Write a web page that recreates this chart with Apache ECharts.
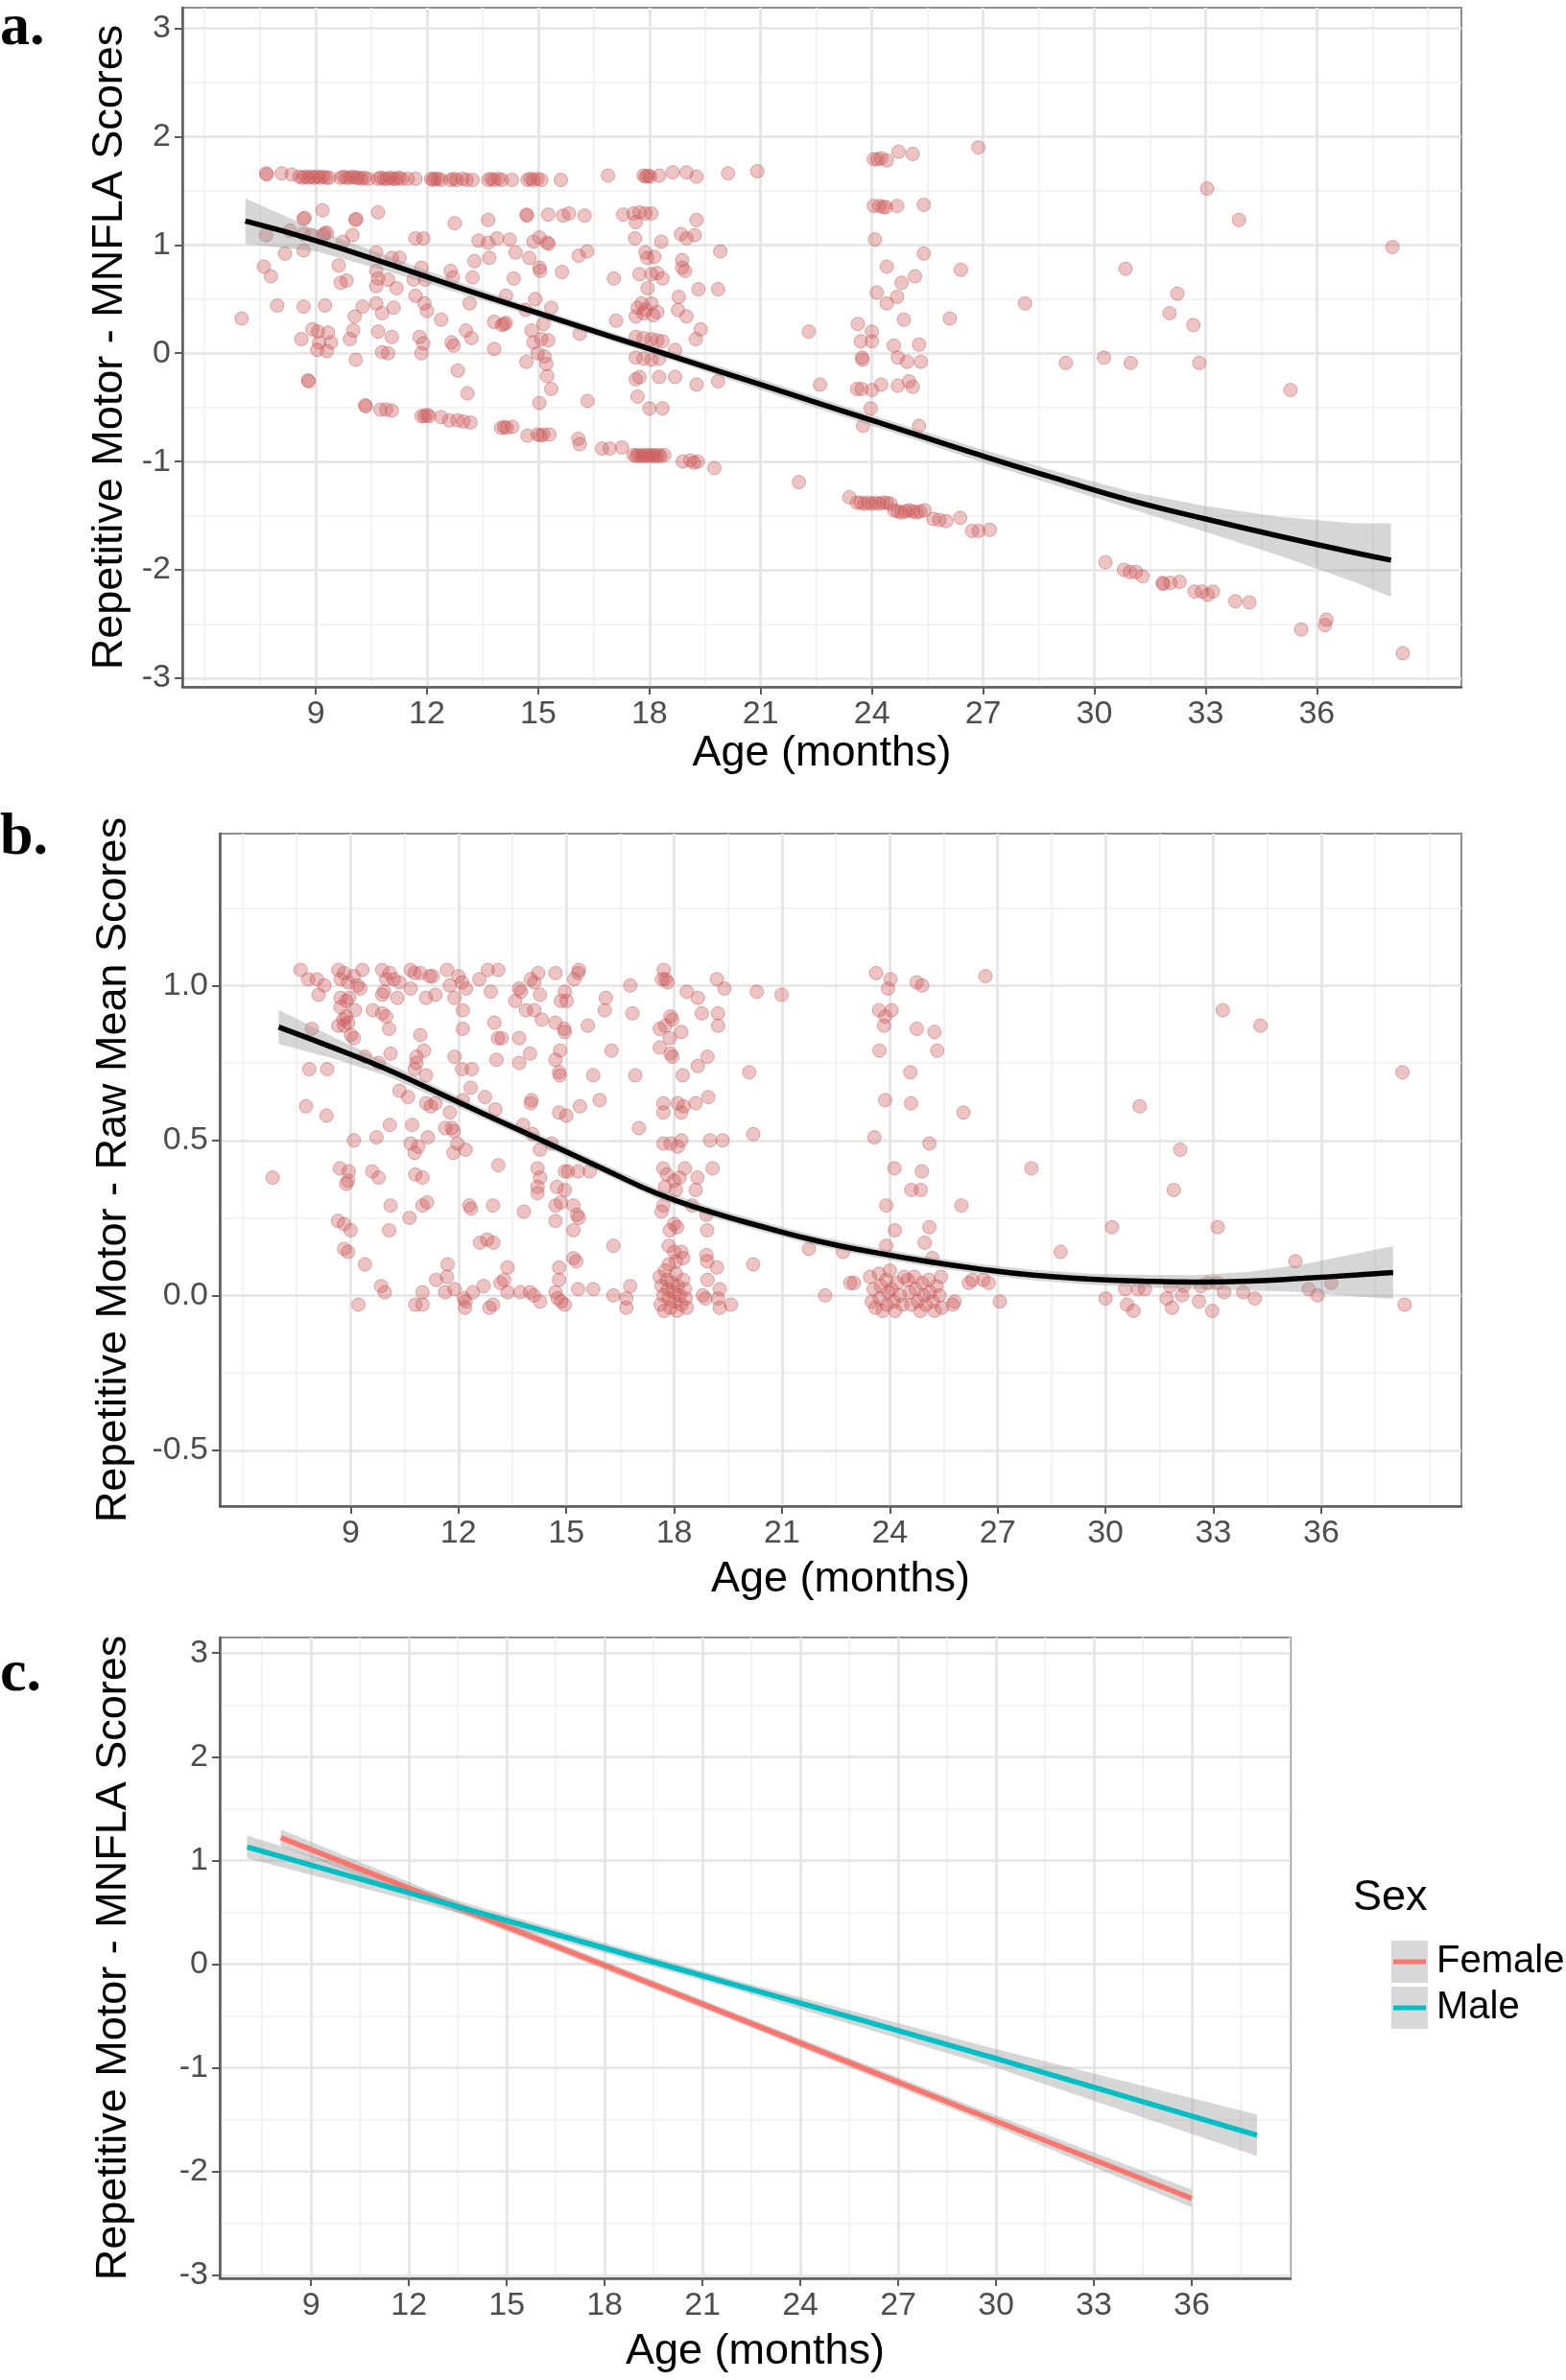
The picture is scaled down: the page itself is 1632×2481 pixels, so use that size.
<!DOCTYPE html>
<html><head><meta charset="utf-8">
<script src="https://cdn.jsdelivr.net/npm/echarts/dist/echarts.min.js"></script>
<style>html,body{margin:0;padding:0;background:#fff}#c{width:1632px;height:2481px}</style>
</head><body><div id="c"></div>
<script>
// ---------- tick values ----------
const xTicks = [9,12,15,18,21,24,27,30,33,36];
const xMinor = [6,7.5,10.5,13.5,16.5,19.5,22.5,25.5,28.5,31.5,34.5,37.5,39];
const yTicksA = [-3,-2,-1,0,1,2,3];
const yMinorA = [-2.5,-1.5,-0.5,0.5,1.5,2.5];
const yTicksB = [-0.5,0,0.5,1.0];
const yMinorB = [-0.25,0.25,0.75,1.25];
const yTicksC = [-3,-2,-1,0,1,2,3];
const yMinorC = [-2.5,-1.5,-0.5,0.5,1.5,2.5];

// ---------- panel a: MNFLA scores [age, score] ----------
const scatterA = [
[7.66,1.66],[7.68,1.65],[8.08,1.66],[8.35,1.65],
[8.56,1.63],[8.64,1.62],[8.72,1.63],[8.8,1.62],[8.88,1.63],[8.96,1.62],[9.04,1.63],[9.12,1.62],[9.2,1.63],[9.28,1.62],[9.36,1.62],
[9.67,1.62],[9.75,1.63],[9.83,1.62],[9.92,1.62],[10.0,1.63],[10.08,1.62],[10.15,1.62],[10.23,1.61],[10.31,1.62],[10.42,1.61],
[10.68,1.61],[10.76,1.62],[10.84,1.61],[10.92,1.61],[11.0,1.62],[11.08,1.61],[11.16,1.61],[11.24,1.62],[11.32,1.61],[11.48,1.61],
[11.69,1.61],[12.11,1.61],[12.16,1.6],[12.22,1.61],[12.3,1.61],[12.38,1.6],
[12.64,1.6],[12.72,1.61],[12.8,1.6],[12.96,1.61],[13.07,1.6],[13.23,1.6],
[13.65,1.6],[13.73,1.61],[13.81,1.6],[13.92,1.61],[14.02,1.6],[14.29,1.6],
[14.71,1.6],[14.79,1.61],[14.87,1.6],[14.98,1.61],[15.08,1.6],[15.61,1.6],
[16.88,1.64],[17.84,1.64],[17.9,1.63],[17.96,1.64],[18.02,1.63],[18.26,1.64],[18.63,1.67],[19.0,1.67],[19.27,1.63],[20.12,1.66],[20.91,1.68],
[8.67,1.24],[8.7,1.25],[9.18,1.32],[10.07,1.23],[10.09,1.24],[10.68,1.3],[12.75,1.2],[13.65,1.23],[14.68,1.28],[14.7,1.27],[15.27,1.28],[15.67,1.27],[15.83,1.29],[16.25,1.27],[17.29,1.28],[17.57,1.29],[17.73,1.3],[17.89,1.29],[18.05,1.29],[17.63,1.21],[19.27,1.23],
[7.66,1.09],[8.3,1.13],[8.67,1.1],[8.88,1.09],[9.2,1.09],[9.24,1.11],[9.3,1.11],[9.73,1.03],[9.99,1.09],[11.69,1.06],[11.9,1.06],[13.39,1.04],[13.65,1.02],[13.89,1.06],[14.23,1.05],[14.87,1.03],[15.03,1.07],[15.24,1.02],[15.28,1.01],[17.61,1.06],[18.32,1.03],[18.85,1.1],[19.0,1.06],[19.22,1.09],
[8.17,0.92],[8.67,0.95],[7.6,0.8],[7.79,0.71],[9.62,0.81],[10.63,0.93],[11.05,0.88],[11.26,0.88],[10.63,0.76],[9.67,0.65],[9.83,0.67],[10.68,0.69],[10.95,0.68],[11.18,0.6],[10.63,0.62],[11.85,0.79],[11.64,0.68],[11.95,0.68],[12.64,0.76],[12.7,0.7],[13.23,0.7],[13.28,0.85],[13.68,0.88],[14.39,0.93],[14.76,0.88],[15.03,0.79],[15.05,0.76],[14.34,0.69],[15.64,0.75],[16.09,0.9],[16.32,0.94],[17.04,0.69],[17.89,0.93],[17.94,0.88],[18.13,0.89],[17.73,0.73],[18.05,0.73],[18.21,0.74],[18.35,0.69],[18.88,0.86],[18.88,0.79],[18.96,0.76],[19.91,0.94],[19.32,0.59],[19.85,0.59],
[7.0,0.32],[7.96,0.44],[8.67,0.43],[9.25,0.44],[10.26,0.43],[10.05,0.34],[10.63,0.46],[10.79,0.37],[11.1,0.42],[11.69,0.53],[11.93,0.46],[12.0,0.39],[12.38,0.31],[13.15,0.46],[14.13,0.53],[14.92,0.5],[14.66,0.4],[15.35,0.42],[13.81,0.29],[14.02,0.26],[14.13,0.28],[14.08,0.27],[15.14,0.27],[17.1,0.3],[17.63,0.34],[17.79,0.46],[17.95,0.6],[18.05,0.46],[18.21,0.38],[17.84,0.37],[17.68,0.42],[17.9,0.4],[18.1,0.35],[18.79,0.52],[18.77,0.4],[19.0,0.34],
[8.61,0.13],[8.91,0.22],[9.06,0.2],[9.33,0.19],[9.09,0.1],[9.41,0.1],[9.04,0.03],[9.3,0.02],[9.92,0.13],[10.01,0.21],[10.08,-0.06],[10.68,0.2],[11.05,0.15],[10.79,0.01],[10.95,0.0],[11.8,0.15],[11.9,0.09],[11.85,0.0],[12.66,0.1],[12.72,0.07],[13.05,0.21],[13.2,0.14],[13.81,0.04],[14.82,0.21],[14.87,0.1],[15.08,0.13],[15.27,0.12],[14.98,0.0],[15.17,-0.03],[16.12,0.18],[17.63,0.15],[17.84,0.14],[18.05,0.13],[18.21,0.12],[18.35,0.11],[17.63,-0.04],[17.84,-0.05],[18.05,-0.06],[18.26,-0.05],[19.25,0.13],[19.38,0.22],[18.69,0.03],
[8.79,-0.25],[8.81,-0.26],[12.83,-0.16],[13.09,-0.37],[14.68,-0.08],[15.22,-0.1],[15.24,-0.21],[15.35,-0.33],[15.03,-0.46],[16.33,-0.44],[17.63,-0.24],[17.73,-0.22],[18.26,-0.22],[18.69,-0.22],[17.68,-0.4],[18.0,-0.51],[18.35,-0.51],[19.27,-0.29],[19.85,-0.26],[22.3,0.2],[22.6,-0.29],
[10.33,-0.48],[10.35,-0.49],[10.74,-0.52],[10.9,-0.52],[11.05,-0.53],[11.85,-0.58],[11.93,-0.58],[12.0,-0.57],[12.06,-0.58],[12.38,-0.59],[12.6,-0.62],[12.82,-0.62],[12.98,-0.63],[13.17,-0.64],[14.0,-0.69],[14.08,-0.68],[14.15,-0.69],[14.3,-0.68],[14.71,-0.76],[14.98,-0.75],[15.06,-0.76],[15.14,-0.75],[15.3,-0.75],[16.08,-0.79],[16.12,-0.84],[16.72,-0.88],[16.93,-0.88],[17.26,-0.87],
[17.57,-0.94],[17.64,-0.95],[17.7,-0.94],[17.77,-0.95],[17.84,-0.94],[17.9,-0.95],[17.97,-0.94],[18.04,-0.95],[18.1,-0.94],[18.17,-0.95],[18.24,-0.94],[18.3,-0.95],[18.4,-0.94],
[18.9,-1.0],[19.1,-0.99],[19.3,-1.0],[19.2,-1.01],[19.75,-1.06],[22.03,-1.19],
[24.05,1.79],[24.15,1.79],[24.25,1.8],[24.4,1.78],[24.72,1.86],[25.1,1.84],[26.87,1.9],
[24.05,1.36],[24.2,1.36],[24.3,1.35],[24.38,1.35],[24.68,1.36],[25.4,1.37],
[24.08,1.05],[25.4,0.92],[24.4,0.8],[26.4,0.77],[24.13,0.56],[24.68,0.52],[24.4,0.46],[24.8,0.65],[25.16,0.71],[24.86,0.31],[26.1,0.32],[28.13,0.46],
[23.62,0.27],[24.0,0.2],[23.7,0.11],[24.0,0.11],[24.59,0.07],[25.27,0.08],[23.73,-0.04],[23.75,-0.06],[24.7,-0.04],[24.95,-0.08],[25.32,-0.08],
[23.6,-0.33],[23.72,-0.33],[24.0,-0.34],[24.25,-0.29],[24.7,-0.3],[25.0,-0.26],[25.1,-0.31],[23.97,-0.51],[23.76,-0.67],[25.27,-0.67],
[30.84,0.78],[32.24,0.55],[32.03,0.37],[32.67,0.26],[33.04,1.52],[33.9,1.23],[38.04,0.98],[29.23,-0.09],[30.26,-0.04],[30.98,-0.09],[32.83,-0.09],[35.29,-0.34],
[23.39,-1.33],[23.6,-1.38],[23.7,-1.38],[23.8,-1.39],[23.9,-1.38],[24.0,-1.39],[24.1,-1.38],[24.2,-1.39],[24.3,-1.38],[24.4,-1.38],[24.5,-1.39],
[24.6,-1.45],[24.7,-1.46],[24.8,-1.47],[24.9,-1.46],[25.0,-1.45],[25.1,-1.46],[25.2,-1.47],[25.3,-1.46],[25.42,-1.45],
[25.66,-1.53],[25.82,-1.54],[26.0,-1.55],[26.38,-1.52],[26.7,-1.64],[26.88,-1.64],[27.18,-1.63],
[30.3,-1.93],[30.8,-2.0],[30.96,-2.02],[31.12,-2.02],[31.3,-2.06],[31.84,-2.12],[31.86,-2.13],[32.05,-2.12],[32.3,-2.11],[32.7,-2.2],[32.9,-2.2],[33.06,-2.23],[33.2,-2.2],[33.8,-2.29],[34.18,-2.3],[35.58,-2.55],[36.22,-2.51],[36.26,-2.46],[38.32,-2.77]
];
const fitA_age   = [7.1, 9, 11, 13, 15, 17, 19, 21, 23, 25, 27, 29, 31, 33, 35, 37, 38];
const fitA_score = [1.22, 1.04, 0.82, 0.59, 0.37, 0.15, -0.07, -0.29, -0.51, -0.73, -0.95, -1.16, -1.36, -1.53, -1.69, -1.84, -1.91];
const fitA_se    = [0.21, 0.1, 0.07, 0.05, 0.04, 0.04, 0.04, 0.05, 0.05, 0.05, 0.06, 0.065, 0.08, 0.12, 0.18, 0.27, 0.34];

// ---------- panel b: raw mean scores [age, score] ----------
const scatterB = [
[7.61,1.05],[7.82,1.02],[8.06,1.02],[8.11,0.97],[8.27,1.0],[8.66,1.05],[8.72,1.02],[8.82,1.04],[8.93,1.01],[9.09,1.03],[9.19,1.0],[9.33,1.05],[9.27,0.99],[9.88,1.05],[9.99,1.02],[10.09,1.04],[10.2,1.02],[10.36,1.01],[10.67,1.05],[10.78,1.04],[10.94,1.04],[11.2,1.03],[11.28,1.03],[11.68,1.05],[11.76,1.0],[12.0,1.03],[12.1,1.01],[12.21,0.99],[12.58,1.02],[12.82,1.05],[13.11,1.05],[12.9,0.98],[13.69,0.99],[13.74,0.98],[14.01,1.02],[14.11,1.01],[14.22,1.04],[14.27,0.97],[14.7,1.04],[14.96,0.98],[15.22,1.02],[15.33,1.04],[15.35,1.05],[16.78,1.0],[17.71,1.05],[17.76,1.02],[17.66,1.02],[17.82,1.01],[18.35,0.98],[19.19,1.02],[19.4,0.99],[20.3,0.98],[20.99,0.97],
[8.72,0.96],[8.88,0.95],[8.96,0.96],[9.88,0.97],[9.93,0.98],[10.3,0.96],[10.67,0.99],[11.1,0.96],[11.36,0.97],[11.89,0.96],[13.58,0.95],[14.85,0.95],[15.01,0.95],[16.1,0.96],[18.66,0.96],
[8.72,0.93],[9.12,0.92],[9.62,0.92],[9.88,0.91],[9.99,0.9],[8.66,0.87],[8.8,0.89],[8.88,0.9],[8.93,0.88],[8.82,0.87],[9.01,0.84],[9.09,0.83],[7.92,0.86],[10.07,0.86],[10.94,0.84],[11.04,0.79],[12.12,0.92],[12.12,0.86],[13.0,0.88],[13.1,0.83],[13.2,0.83],[13.69,0.83],[13.88,0.92],[14.11,0.92],[14.32,0.89],[14.7,0.88],[14.94,0.86],[14.96,0.85],[15.6,0.87],[16.07,0.92],[16.84,0.91],[17.9,0.9],[17.95,0.89],[17.75,0.87],[17.6,0.86],[18.2,0.85],[17.88,0.83],[18.77,0.91],[19.22,0.91],[19.22,0.87],[16.26,0.79],[17.6,0.8],[17.9,0.78],[17.95,0.77],
[10.11,0.78],[9.78,0.75],[9.4,0.77],[7.85,0.73],[8.35,0.73],[10.83,0.77],[10.83,0.75],[10.78,0.73],[11.1,0.71],[11.89,0.77],[12.1,0.73],[12.37,0.73],[13.06,0.76],[13.69,0.75],[13.99,0.78],[14.7,0.76],[14.83,0.79],[14.8,0.72],[14.82,0.71],[15.75,0.71],[16.92,0.71],[18.24,0.71],[18.66,0.74],[18.93,0.77],[20.09,0.72],
[7.76,0.61],[8.33,0.58],[10.36,0.66],[10.6,0.64],[11.1,0.62],[11.23,0.61],[11.36,0.62],[11.76,0.59],[12.12,0.63],[12.34,0.67],[12.74,0.64],[13.03,0.6],[14.01,0.62],[14.03,0.63],[14.8,0.59],[15.0,0.58],[15.38,0.61],[15.93,0.63],[17.7,0.62],[17.7,0.59],[18.1,0.62],[18.26,0.61],[18.2,0.59],[18.6,0.62],[18.95,0.64],[17.02,0.54],[20.2,0.52],
[9.09,0.5],[9.72,0.51],[10.09,0.55],[10.71,0.55],[10.67,0.49],[10.78,0.46],[10.88,0.48],[11.15,0.51],[11.63,0.54],[11.87,0.53],[11.82,0.54],[11.97,0.49],[11.86,0.46],[12.2,0.47],[13.8,0.55],[14.06,0.52],[14.27,0.47],[14.59,0.49],[17.7,0.49],[17.9,0.49],[18.1,0.48],[18.2,0.5],[19.0,0.5],[19.35,0.5],
[6.83,0.38],[8.7,0.41],[8.95,0.4],[8.93,0.37],[8.88,0.36],[9.6,0.4],[9.78,0.38],[10.8,0.39],[11.0,0.38],[13.11,0.42],[14.2,0.41],[14.27,0.38],[14.2,0.35],[14.74,0.35],[14.96,0.4],[15.05,0.4],[15.33,0.4],[15.65,0.4],[14.2,0.33],[14.96,0.34],[17.7,0.41],[17.8,0.39],[18.0,0.37],[18.15,0.38],[18.3,0.41],[18.65,0.38],[19.07,0.41],[17.75,0.35],[18.05,0.34],[18.6,0.34],
[8.65,0.24],[8.82,0.23],[9.0,0.21],[10.11,0.29],[10.64,0.25],[10.07,0.21],[11.0,0.29],[11.13,0.3],[12.3,0.29],[12.35,0.28],[12.96,0.29],[13.82,0.27],[14.7,0.29],[14.85,0.3],[14.7,0.24],[15.2,0.29],[15.3,0.26],[15.35,0.25],[15.2,0.21],[17.7,0.29],[17.65,0.27],[18.0,0.23],[18.08,0.22],[17.88,0.21],[18.9,0.26],[18.92,0.21],[18.5,0.29],
[8.82,0.15],[8.93,0.14],[9.4,0.1],[12.6,0.17],[12.8,0.18],[12.97,0.17],[11.7,0.1],[13.37,0.09],[14.8,0.09],[15.2,0.12],[15.28,0.11],[16.31,0.16],[17.85,0.16],[18.0,0.14],[18.2,0.14],[18.25,0.12],[18.05,0.11],[17.85,0.1],[18.9,0.13],[18.92,0.11],[19.19,0.09],[20.2,0.1],[21.75,0.15],[22.7,0.14],[22.9,0.04],
[9.22,-0.03],[9.95,0.01],[9.85,0.03],[10.8,-0.03],[11.0,-0.03],[11.0,0.01],[11.38,0.05],[11.68,0.06],[11.63,0.01],[11.89,0.02],[12.15,-0.01],[12.2,-0.02],[12.18,-0.04],[12.4,0.01],[12.7,0.03],[12.86,-0.04],[12.96,-0.03],[13.17,0.04],[13.27,0.05],[13.37,0.01],[13.72,0.01],[13.99,0.01],[14.1,0.0],[14.27,-0.02],[14.7,0.01],[14.76,-0.01],[14.86,-0.02],[14.96,-0.03],[14.8,0.05],[15.33,0.02],[15.75,0.02],[16.31,0.0],[16.67,-0.01],[16.78,0.03],[16.67,-0.04],
[17.6,0.06],[17.65,0.03],[17.7,0.0],[17.62,-0.03],[17.72,-0.05],[17.8,0.05],[17.82,0.02],[17.85,-0.01],[17.9,-0.04],[17.95,0.04],[18.0,0.01],[18.02,-0.02],[18.08,-0.05],[18.1,0.03],[18.15,0.0],[18.2,-0.03],[18.25,0.05],[18.3,0.02],[18.32,-0.01],[18.35,-0.04],[17.75,0.08],[18.05,0.07],
[18.8,0.0],[18.93,0.05],[18.87,-0.01],[19.27,0.02],[19.22,-0.01],[19.27,-0.04],[19.58,-0.03],[22.2,0.0],
[23.62,1.04],[24.02,1.02],[23.95,0.99],[24.75,1.01],[24.9,1.0],[26.66,1.03],[23.7,0.92],[24.05,0.92],[23.87,0.9],[23.84,0.87],[24.75,0.86],[25.24,0.85],[23.71,0.79],[25.32,0.79],[24.57,0.72],[23.87,0.63],[24.59,0.62],[26.05,0.59],[23.57,0.51],[25.1,0.49],[24.13,0.41],[24.89,0.4],[24.6,0.34],[24.86,0.34],[23.9,0.29],[25.99,0.29],[24.14,0.21],[25.1,0.22],[24.97,0.17],[23.9,0.16],[25.18,0.12],[27.94,0.41],[28.75,0.14],[30.18,0.22],[30.95,0.61],[32.08,0.47],[31.9,0.34],[33.26,0.92],[34.31,0.87],[38.26,0.72],[33.12,0.22],[35.28,0.11],
[23.45,0.06],[23.55,0.02],[23.5,-0.02],[23.6,-0.04],[23.7,0.07],[23.75,0.03],[23.72,-0.01],[23.8,-0.05],[23.9,0.05],[23.95,0.01],[23.92,-0.03],[24.0,0.08],[24.05,0.02],[24.1,-0.02],[24.15,-0.05],[24.2,0.04],[24.28,0.0],[24.35,-0.03],[24.4,0.06],
[24.5,0.05],[24.55,0.01],[24.6,-0.03],[24.68,0.06],[24.72,0.02],[24.78,-0.02],[24.85,-0.05],[24.9,0.04],[24.95,0.0],[25.0,-0.03],[25.08,0.05],[25.12,0.01],[25.2,-0.02],[25.25,-0.05],[25.3,0.03],[25.38,0.0],[25.45,-0.04],[25.42,0.06],
[26.2,0.04],[26.3,0.05],[26.6,0.05],[26.75,0.04],[25.8,-0.02],[25.75,-0.03],[27.06,-0.02],[30.0,-0.01],[30.6,-0.03],[30.78,-0.05],[30.55,0.02],[30.9,0.02],[31.1,0.02],[31.7,-0.01],[31.85,-0.04],[31.8,0.03],[32.18,0.03],[32.13,0.0],[32.6,-0.02],[32.97,-0.05],[32.65,0.03],[32.85,0.04],[33.1,0.04],[33.3,0.01],[33.83,0.01],[34.15,-0.01],[35.65,0.02],[35.9,0.0],[36.28,0.04],[38.32,-0.03],[23.0,0.04]
];
const fitB_age   = [7.0, 8.5, 10, 11.5, 13, 14.5, 16, 17.5, 19, 20.5, 22, 23.5, 25, 26.5, 28, 29.5, 31, 32.5, 34, 35.5, 37, 38];
const fitB_score = [0.866, 0.80, 0.73, 0.65, 0.57, 0.49, 0.41, 0.33, 0.27, 0.22, 0.175, 0.14, 0.11, 0.085, 0.065, 0.053, 0.046, 0.043, 0.046, 0.055, 0.066, 0.074];
const fitB_se    = [0.055, 0.035, 0.022, 0.018, 0.016, 0.016, 0.016, 0.016, 0.016, 0.016, 0.016, 0.016, 0.016, 0.016, 0.017, 0.018, 0.02, 0.022, 0.03, 0.045, 0.07, 0.085];

// ---------- panel c: fitted lines by sex ----------
const sexLevels = ['Female','Male'];
const fitC_age   = { Female: [8.07, 15, 22, 29, 36],     Male: [7.04, 14, 22, 30, 38] };
const fitC_score = { Female: [1.22, 0.36, -0.51, -1.39, -2.26], Male: [1.13, 0.51, -0.20, -0.91, -1.65] };
const fitC_se    = { Female: [0.08, 0.045, 0.04, 0.05, 0.085],  Male: [0.11, 0.055, 0.045, 0.09, 0.2] };
const sexColors = { Female: '#F8766D', Male: '#00BFC4' };

// ---------- helpers ----------
const FONT = '"Liberation Sans", Arial, sans-serif';
const grids = [
  { left: 190, top: 8,    width: 1333, height: 708 },
  { left: 229, top: 869,  width: 1294, height: 701 },
  { left: 229, top: 1707, width: 1116, height: 668 }
];
const xRange = [[5.4, 39.9], [5.36, 39.9], [6.2, 39.03]];
const yRange = [[-3.08, 3.19], [-0.68, 1.49], [-3.03, 3.15]];
const yMajor = [yTicksA, yTicksB, yTicksC];
const yMinorL = [yMinorA, yMinorB, yMinorC];
const yTitles = ['Repetitive Motor - MNFLA Scores', 'Repetitive Motor - Raw Mean Scores', 'Repetitive Motor - MNFLA Scores'];
const yNameGap = [50, 88, 88];
const xNameGap = [46, 54, 54];

function inR(v, r){ return v >= r[0] && v <= r[1]; }

function gridLineSeries(gi) {
  const d = [];
  const minorStyle = { color: '#efefef', width: 1.6, type: 'solid' };
  const majorStyle = { color: '#e4e4e4', width: 2.6, type: 'solid' };
  xMinor.filter(v => inR(v, xRange[gi])).forEach(v => d.push({ xAxis: v, lineStyle: minorStyle }));
  yMinorL[gi].filter(v => inR(v, yRange[gi])).forEach(v => d.push({ yAxis: v, lineStyle: minorStyle }));
  xTicks.forEach(v => d.push({ xAxis: v, lineStyle: majorStyle }));
  yMajor[gi].filter(v => inR(v, yRange[gi])).forEach(v => d.push({ yAxis: v, lineStyle: majorStyle }));
  return {
    type: 'line', xAxisIndex: gi, yAxisIndex: gi, data: [], silent: true, z: 0,
    markLine: { silent: true, symbol: ['none', 'none'], label: { show: false }, z: 0,
      emphasis: { disabled: true }, animation: false, data: d }
  };
}

function bandSeries(gi, xs, ys, se, fill) {
  return {
    type: 'custom', xAxisIndex: gi, yAxisIndex: gi, silent: true, z: 4, data: [0],
    renderItem: function (params, api) {
      const pts = [];
      for (let i = 0; i < xs.length; i++) pts.push(api.coord([xs[i], ys[i] + se[i]]));
      for (let i = xs.length - 1; i >= 0; i--) pts.push(api.coord([xs[i], ys[i] - se[i]]));
      return { type: 'polygon', shape: { points: pts }, style: { fill: fill } };
    }
  };
}

function fitSeries(gi, xs, ys, color, name) {
  return {
    type: 'line', name: name, xAxisIndex: gi, yAxisIndex: gi, z: 5, smooth: true,
    showSymbol: false, silent: true,
    lineStyle: { color: color, width: 5.5 },
    data: xs.map((x, i) => [x, ys[i]])
  };
}

function scatterSeries(gi, data) {
  return {
    type: 'scatter', xAxisIndex: gi, yAxisIndex: gi, z: 3, silent: true,
    symbolSize: 14,
    itemStyle: { color: 'rgba(205,92,92,0.45)', borderColor: 'rgba(195,75,75,0.55)', borderWidth: 1 },
    data: data
  };
}

const xAxes = grids.map((g, gi) => ({
  type: 'value', gridIndex: gi, min: xRange[gi][0], max: xRange[gi][1],
  name: 'Age (months)', nameLocation: 'middle', nameGap: xNameGap[gi],
  nameTextStyle: { fontSize: 45, color: '#000', fontFamily: FONT },
  axisLine: { show: true, onZero: false, lineStyle: { color: '#5a5a5a', width: 2.5 } },
  axisTick: { show: true, customValues: xTicks, length: 8, lineStyle: { color: '#5a5a5a', width: 2 } },
  axisLabel: { customValues: xTicks, fontSize: 34, color: '#4d4d4d', margin: 12, fontFamily: FONT },
  splitLine: { show: false }
}));
const yAxes = grids.map((g, gi) => ({
  type: 'value', gridIndex: gi, min: yRange[gi][0], max: yRange[gi][1],
  name: yTitles[gi], nameLocation: 'middle', nameGap: yNameGap[gi], nameRotate: 90,
  nameTextStyle: { fontSize: 45, color: '#000', fontFamily: FONT },
  axisLine: { show: true, onZero: false, lineStyle: { color: '#5a5a5a', width: 2.5 } },
  axisTick: { show: true, customValues: yMajor[gi], length: 8, lineStyle: { color: '#5a5a5a', width: 2 } },
  axisLabel: { customValues: yMajor[gi], fontSize: 34, color: '#4d4d4d', margin: 12, fontFamily: FONT,
    formatter: gi === 1 ? (v => Number(v).toFixed(1)) : (v => String(Math.round(v))) },
  splitLine: { show: false }
}));

const series = [
  gridLineSeries(0), gridLineSeries(1), gridLineSeries(2),
  scatterSeries(0, scatterA),
  bandSeries(0, fitA_age, fitA_score, fitA_se, 'rgba(153,153,153,0.4)'),
  fitSeries(0, fitA_age, fitA_score, '#000', 'fitA'),
  scatterSeries(1, scatterB),
  bandSeries(1, fitB_age, fitB_score, fitB_se, 'rgba(153,153,153,0.4)'),
  fitSeries(1, fitB_age, fitB_score, '#000', 'fitB')
];
sexLevels.forEach(s => {
  series.push(bandSeries(2, fitC_age[s], fitC_score[s], fitC_se[s], 'rgba(153,153,153,0.4)'));
});
sexLevels.forEach(s => {
  series.push(fitSeries(2, fitC_age[s], fitC_score[s], sexColors[s], s));
});

// legend (drawn)
const legendGraphic = [
  { type: 'text', x: 1410, y: 1979, style: { text: 'Sex', font: '45px ' + FONT, fill: '#000', verticalAlign: 'middle' } }
];
sexLevels.forEach((s, i) => {
  const cy = 2045 + i * 48;
  legendGraphic.push({ type: 'rect', shape: { x: 1450, y: cy - 22, width: 38, height: 44 }, style: { fill: '#d9d9d9' } });
  legendGraphic.push({ type: 'line', shape: { x1: 1452, y1: cy, x2: 1486, y2: cy }, style: { stroke: sexColors[s], lineWidth: 5 } });
  legendGraphic.push({ type: 'text', x: 1497, y: cy, style: { text: s, font: '40px ' + FONT, fill: '#000', verticalAlign: 'middle' } });
});

const panelLabels = [
  { type: 'text', x: 0, y: 30, style: { text: 'a.', font: 'bold 62px "Liberation Serif", serif', fill: '#000', verticalAlign: 'middle' } },
  { type: 'text', x: 0, y: 874, style: { text: 'b.', font: 'bold 62px "Liberation Serif", serif', fill: '#000', verticalAlign: 'middle' } },
  { type: 'text', x: 0, y: 1746, style: { text: 'c.', font: 'bold 62px "Liberation Serif", serif', fill: '#000', verticalAlign: 'middle' } }
];

const chart = echarts.init(document.getElementById('c'), null, { renderer: 'canvas' });
chart.setOption({
  backgroundColor: '#ffffff',
  animation: false,
  grid: grids.map(g => Object.assign({ show: true, borderColor: '#8f8f8f', borderWidth: 2, backgroundColor: '#fff', containLabel: false }, g)),
  xAxis: xAxes,
  yAxis: yAxes,
  series: series,
  graphic: panelLabels.concat(legendGraphic)
});
</script></body></html>
